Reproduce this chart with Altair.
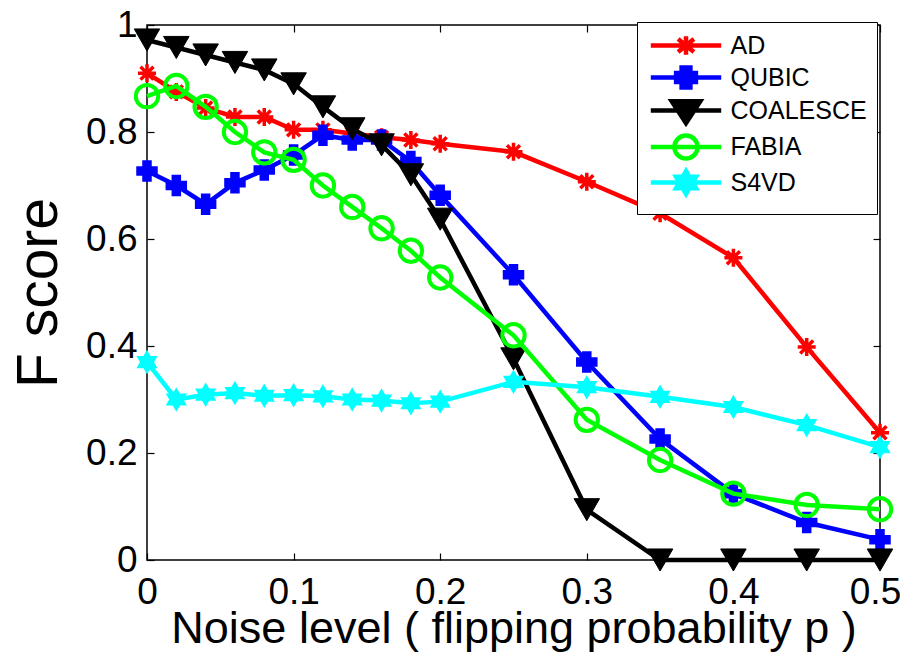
import altair as alt
import pandas as pd

# ---------------- data ----------------
x_vals = [0, 0.02, 0.04, 0.06, 0.08, 0.1, 0.12, 0.14, 0.16, 0.18, 0.2, 0.25, 0.3, 0.35, 0.4, 0.45, 0.5]
ad = [0.91, 0.875, 0.845, 0.828, 0.828, 0.804, 0.804, 0.797, 0.79, 0.785, 0.778, 0.763, 0.707, 0.648, 0.565, 0.398, 0.238]
qubic = [0.727, 0.70, 0.665, 0.705, 0.729, 0.757, 0.794, 0.785, 0.785, 0.745, 0.682, 0.533, 0.37, 0.226, 0.124, 0.07, 0.038]
coalesce = [0.972, 0.958, 0.944, 0.93, 0.916, 0.89, 0.847, 0.806, 0.776, 0.72, 0.637, 0.376, 0.094, 0.0, 0.0, 0.0, 0.0]
fabia = [0.867, 0.886, 0.847, 0.80, 0.762, 0.748, 0.70, 0.66, 0.62, 0.578, 0.528, 0.42, 0.262, 0.187, 0.124, 0.103, 0.095]
s4vd = [0.37, 0.30, 0.309, 0.312, 0.307, 0.308, 0.306, 0.30, 0.298, 0.293, 0.296, 0.333, 0.323, 0.305, 0.286, 0.252, 0.211]

series_names = ["AD", "QUBIC", "COALESCE", "FABIA", "S4VD"]
series_values = [ad, qubic, coalesce, fabia, s4vd]
colors = ["#ff0000", "#0000ff", "#000000", "#00ff00", "#00ffff"]

x_ticks = [0, 0.1, 0.2, 0.3, 0.4, 0.5]
y_ticks = [0, 0.2, 0.4, 0.6, 0.8, 1]
x_title = "Noise level ( flipping probability p )"
y_title = "F score"

rows = []
for name, vals in zip(series_names, series_values):
    for xv, yv in zip(x_vals, vals):
        rows.append({"p": xv, "F": yv, "series": name})
df = pd.DataFrame(rows)

# ---------------- styles ----------------
FONT = "Liberation Sans, Arial, Helvetica, sans-serif"
ASTERISK = "M-1,0L1,0M0,-1L0,1M-0.72,-0.72L0.72,0.72M-0.72,0.72L0.72,-0.72"
HEXAGRAM = ("M0,-1L0.289,-0.5L0.866,-0.5L0.577,0L0.866,0.5L0.289,0.5L0,1L-0.289,0.5"
            "L-0.866,0.5L-0.577,0L-0.866,-0.5L-0.289,-0.5Z")

marker_styles = {
    "AD": dict(shape=ASTERISK, size=324, filled=False, strokeWidth=3.5),
    "QUBIC": dict(shape="cross", size=400, filled=True, strokeWidth=1.5),
    "COALESCE": dict(shape="triangle-down", size=650, filled=True, strokeWidth=1),
    "FABIA": dict(shape="circle", size=500, filled=False, strokeWidth=4),
    "S4VD": dict(shape=HEXAGRAM, size=460, filled=True, strokeWidth=1.5),
}

LINE = "M-3.2,0L3.2,0"
legend_paths = [
    LINE + "M0,-0.85L0,0.85M-0.72,-0.6L0.72,0.6M-0.72,0.6L0.72,-0.6",
    LINE + "M-0.4,-0.9L0.4,-0.9L0.4,-0.4L0.9,-0.4L0.9,0.4L0.4,0.4L0.4,0.9L-0.4,0.9L-0.4,0.4L-0.9,0.4L-0.9,-0.4L-0.4,-0.4Z",
    LINE + "M-1.3,-0.85L1.3,-0.85L0,1.15Z",
    LINE + "M1.05,0A1.05,1.05 0 1,1 -1.05,0A1.05,1.05 0 1,1 1.05,0",
    LINE + "M0,-1.05L0.3,-0.52L0.91,-0.52L0.6,0L0.91,0.52L0.3,0.52L0,1.05L-0.3,0.52L-0.91,0.52L-0.6,0L-0.91,-0.52L-0.3,-0.52Z",
]
legend_fills = ["transparent", "#0000ff", "#000000", "transparent", "#00ffff"]

xscale = alt.Scale(domain=[0, 0.5], nice=False, zero=False)
yscale = alt.Scale(domain=[0, 1], nice=False, zero=False)

TICK = 7

bottom_axis = alt.Axis(
    orient="bottom", values=x_ticks, format="~g", offset=-TICK, tickSize=TICK,
    domain=False, grid=False, tickColor="black", tickWidth=1.2,
    labelFont=FONT, labelFontSize=37, labelColor="black", labelPadding=43,
    labelBaseline="alphabetic", labelFlush=False, labelOverlap=False,
    labelOffset={"condition": {"test": "datum.value == 0.5", "value": -5}, "value": 0},
    title=x_title, titleFont=FONT, titleFontSize=45, titleFontWeight="normal",
    titleColor="black", titleBaseline="alphabetic", titleY=89,
)
left_axis = alt.Axis(
    orient="left", values=y_ticks, format="~g", offset=-TICK, tickSize=TICK,
    domain=False, grid=False, tickColor="black", tickWidth=1.2,
    labelFont=FONT, labelFontSize=37, labelColor="black", labelPadding=10,
    labelBaseline="middle", labelFlush=False, labelOverlap=False,
    title=y_title, titleFont=FONT, titleFontSize=57, titleFontWeight="normal",
    titleColor="black", titleAngle=270, titleBaseline="alphabetic", titleAlign="center",
    titleX=-98, titleY=267.5,
)
top_axis = alt.Axis(
    orient="top", values=x_ticks, offset=-TICK, tickSize=TICK, domain=False, grid=False,
    labels=False, tickColor="black", tickWidth=1.2, title=None,
)
right_axis = alt.Axis(
    orient="right", values=y_ticks, offset=-TICK, tickSize=TICK, domain=False, grid=False,
    labels=False, tickColor="black", tickWidth=1.2, title=None,
)

layers = []
for i, (name, col) in enumerate(zip(series_names, colors)):
    base = alt.Chart(df).transform_filter(alt.datum.series == name)
    xenc = alt.X("p:Q", scale=xscale, axis=bottom_axis if i == 0 else None)
    yenc = alt.Y("F:Q", scale=yscale, axis=left_axis if i == 0 else None)
    line = base.mark_line(color=col, strokeWidth=4.5).encode(x=xenc, y=yenc)
    st = marker_styles[name]
    pts = base.mark_point(
        shape=st["shape"], size=st["size"], filled=st["filled"], color=col,
        stroke=col, strokeWidth=st["strokeWidth"], opacity=1,
        fill=col if st["filled"] else "transparent",
    ).encode(
        x=alt.X("p:Q", scale=xscale, axis=None),
        y=alt.Y("F:Q", scale=yscale, axis=None),
    )
    layers += [line, pts]

legend = alt.Legend(
    title=None, orient="none", legendX=490, legendY=-3,
    fillColor="white", strokeColor="black", padding=10,
    symbolSize=484, symbolStrokeWidth=4.5, symbolOffset=25.5, labelOffset=31,
    labelFont=FONT, labelFontSize=25, labelColor="black", rowPadding=-7.5,
)

legend_layer = alt.Chart(df).transform_filter("false").mark_point(opacity=1).encode(
    x=alt.X("p:Q", scale=xscale, axis=top_axis),
    y=alt.Y("F:Q", scale=yscale, axis=right_axis),
    shape=alt.Shape("series:N", scale=alt.Scale(domain=series_names, range=legend_paths), legend=legend),
    stroke=alt.Stroke("series:N", scale=alt.Scale(domain=series_names, range=colors), legend=legend),
    fill=alt.Fill("series:N", scale=alt.Scale(domain=series_names, range=legend_fills), legend=legend),
)
layers.append(legend_layer)

chart = alt.layer(*layers).resolve_axis(x="independent", y="independent").properties(
    width=733, height=535,
    padding={"left": 139, "top": 17, "right": 20, "bottom": 92},
    autosize=alt.AutoSizeParams(type="none"),
    background="white",
).configure_view(stroke="black", strokeWidth=1.5)

chart.save("out.html", embed_options={"renderer": "svg", "actions": False})
